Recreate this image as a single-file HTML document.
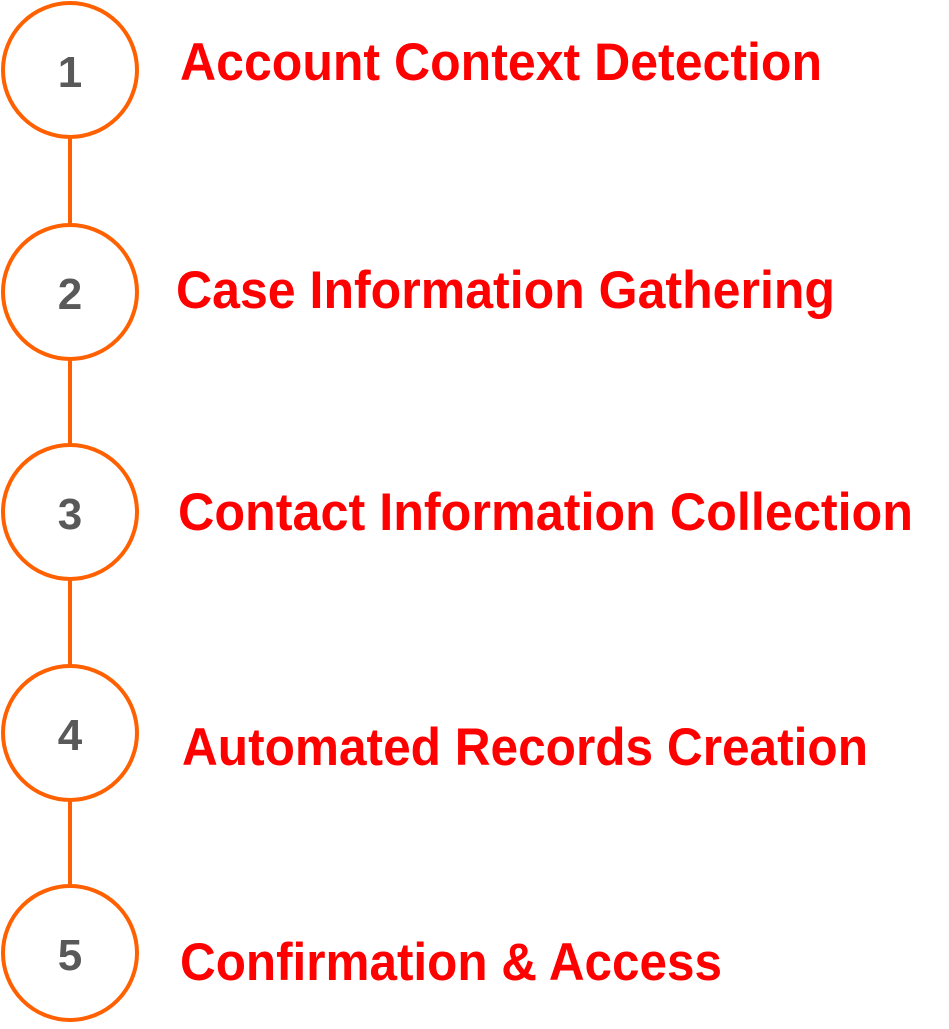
<!DOCTYPE html>
<html><head><style>html,body{margin:0;padding:0;background:#fff;}</style></head>
<body>
<svg width="949" height="1024" viewBox="0 0 949 1024" xmlns="http://www.w3.org/2000/svg">
<g stroke="#FF6000" stroke-width="4" fill="none">
<line x1="70" y1="137" x2="70" y2="225"/>
<line x1="70" y1="359" x2="70" y2="445"/>
<line x1="70" y1="579" x2="70" y2="666"/>
<line x1="70" y1="800" x2="70" y2="886"/>
<circle cx="70" cy="70" r="67"/>
<circle cx="70" cy="292" r="67"/>
<circle cx="70" cy="512" r="67"/>
<circle cx="70" cy="733" r="67"/>
<circle cx="70" cy="953" r="67"/>
</g>
<g fill="#595959" font-family="Liberation Sans, sans-serif" font-weight="bold" font-size="44" text-anchor="middle">
<text x="70" y="87">1</text>
<text x="70" y="309">2</text>
<text x="70" y="529">3</text>
<text x="70" y="750">4</text>
<text x="70" y="970">5</text>
</g>
<g fill="#FF0000" font-family="Liberation Sans, sans-serif" font-weight="bold" font-size="53">
<text x="180" y="80" textLength="642" lengthAdjust="spacingAndGlyphs">Account Context Detection</text>
<text x="176" y="308" textLength="659" lengthAdjust="spacingAndGlyphs">Case Information Gathering</text>
<text x="178" y="530" textLength="735" lengthAdjust="spacingAndGlyphs">Contact Information Collection</text>
<text x="182" y="765" textLength="686" lengthAdjust="spacingAndGlyphs">Automated Records Creation</text>
<text x="180" y="980" textLength="542" lengthAdjust="spacingAndGlyphs">Confirmation &amp; Access</text>
</g>
</svg>
</body></html>
